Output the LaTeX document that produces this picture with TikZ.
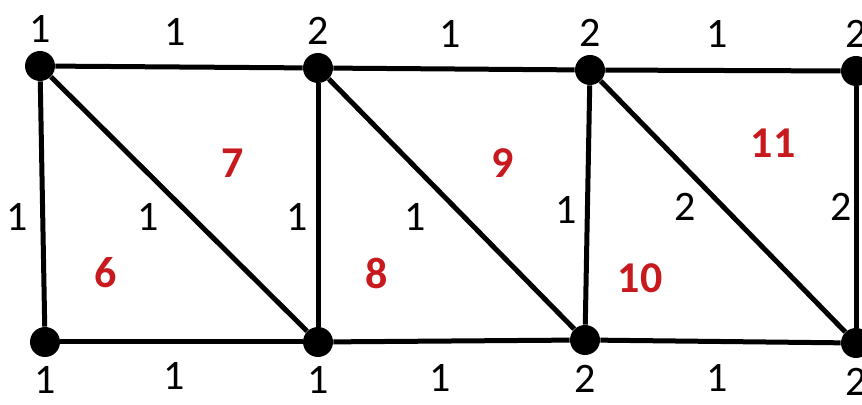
\documentclass[tikz,border=0pt]{standalone}
\usepackage{fontspec}
\setmainfont{Carlito}
\definecolor{zonered}{RGB}{200,25,30}
\tikzset{
  dot/.style={circle, fill=black, inner sep=0pt, minimum size=15pt},
  lbl/.style={inner sep=0pt, font=\fontsize{21}{24}\selectfont},
  zone/.style={inner sep=0pt, text=zonered, font=\bfseries\fontsize{22}{26}\selectfont},
  edge/.style={line width=2.5pt}
}
\begin{document}
\begin{tikzpicture}[x=0.5pt, y=-0.5pt]
        \useasboundingbox (0,0) rectangle (862,405);
        % vertices
        \node[dot, label={[lbl, label distance=4pt]above:1}] (t1) at (40,66) {};
        \node[dot, label={[lbl, label distance=4pt]above:2}] (t2) at (318,68) {};
        \node[dot, label={[lbl, label distance=4pt]above:2}] (t3) at (590,70) {};
        \node[dot, label={[lbl, label distance=4pt]above:2}] (t4) at (856,71) {};
        \node[dot, label={[lbl, label distance=4.5pt]below:1}] (b1) at (45,342) {};
        \node[dot, label={[lbl, label distance=4.5pt]below:1}] (b2) at (318,342) {};
        \node[dot, label={[lbl, label distance=4.5pt]below:2}] (b3) at (585,340) {};
        \node[dot, label={[lbl, label distance=4.5pt]below:2}] (b4) at (856,343) {};
        % horizontal edges
        \draw[edge] (t1) -- (t2) node[lbl, midway, xshift=-2pt, yshift=17.5pt] {1};
        \draw[edge] (t2) -- (t3) node[lbl, midway, xshift=-2pt, yshift=17.5pt] {1};
        \draw[edge] (t3) -- (t4) node[lbl, midway, xshift=-2.75pt, yshift=18.5pt] {1};
        \draw[edge] (b1) -- (b2) node[lbl, midway, xshift=-3.75pt, yshift=-17pt] {1};
        \draw[edge] (b2) -- (b3) node[lbl, midway, xshift=-5.75pt, yshift=-18.5pt] {1};
        \draw[edge] (b3) -- (b4) node[lbl, midway, xshift=-1.5pt, yshift=-18pt] {1};
        % vertical edges
        \draw[edge] (t1) -- (b1) node[lbl, midway, xshift=-12.5pt, yshift=-6.5pt] {1};
        \draw[edge] (t2) -- (b2) node[lbl, midway, xshift=-10.5pt, yshift=-6pt] {1};
        \draw[edge] (t3) -- (b3) node[lbl, midway, xshift=-10.5pt, yshift=-2.5pt] {1};
        \draw[edge] (t4) -- (b4) node[lbl, midway, xshift=-7.5pt] {2};
        % diagonals
        \draw[edge] (t1) -- (b2) node[lbl, midway, xshift=-15.5pt, yshift=-6.25pt] {1};
        \draw[edge] (t2) -- (b3) node[lbl, midway, xshift=-18.25pt, yshift=-6.5pt] {1};
        \draw[edge] (t3) -- (b4) node[lbl, midway, xshift=-18.75pt] {2};
        % element numbers
        \node[zone] (z6) at (106,273) {6};
        \node[zone] (z7) at (233,163) {7};
        \node[zone] (z8) at (377,273) {8};
        \node[zone] (z9) at (503,163) {9};
        \node[zone] (z10) at (640,278) {10};
        \node[zone] (z11) at (773,143) {11};
    \end{tikzpicture}
\end{document}
